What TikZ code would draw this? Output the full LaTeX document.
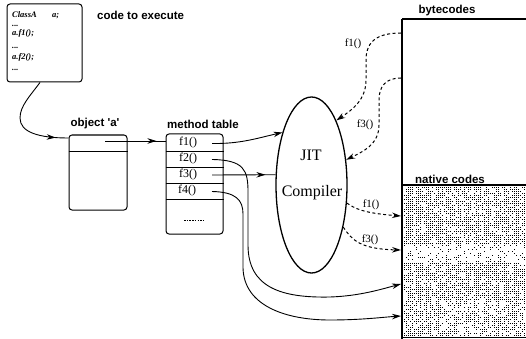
\documentclass[tikz,border=0pt]{standalone}
\usepackage{fontspec}
\setmainfont{Liberation Serif}
\setsansfont{Liberation Sans}[Ligatures=TeXOff]
\usetikzlibrary{arrows.meta,shapes.geometric,decorations.markings}

\begin{document}
\begin{tikzpicture}[x=1pt,y=-1pt,
  >={Stealth[length=9pt,width=5.5pt]},
  lbl/.style={font=\sffamily\bfseries\fontsize{11.5pt}{13pt}\selectfont, inner sep=0pt},
  fn/.style={font=\fontsize{12pt}{13pt}\selectfont, inner sep=0pt},
  small fn/.style={font=\fontsize{11pt}{12pt}\selectfont, inner sep=0pt},
  big/.style={font=\fontsize{16pt}{18pt}\selectfont, inner sep=0pt},
  codetxt/.style={font=\bfseries\itshape\fontsize{8.5pt}{9pt}\selectfont, inner sep=0pt, anchor=base west},
  box/.style={draw, line width=1pt, rounded corners=3pt, inner sep=0pt},
  conn/.style={line width=0.9pt},
  dashconn/.style={line width=1pt, dash pattern=on 3pt off 2.5pt},
  midarrow/.style={postaction={decorate},
    decoration={markings, mark=at position #1 with {\arrow{Stealth[length=9pt,width=5.5pt]}}}}
]
\useasboundingbox (0,0) rectangle (526,339);

% ---- source code fragment ----
\node[box, minimum width=75pt, minimum height=78pt] (code) at (44.5,43) {};
\node[codetxt] (c1) at (12,18) {ClassA};
\node[codetxt] (c1b) at (52,18) {a;};
\node[codetxt] (c2) at (12,27) {...};
\node[codetxt] (c3) at (12,36) {a.f1();};
\node[codetxt] (c4) at (12,49) {...};
\node[codetxt] (c5) at (12,60) {a.f2();};
\node[codetxt] (c6) at (12,71) {...};
\node[lbl, anchor=west] (codelbl) at (97,15) {code to execute};

% ---- object 'a' ----
\node[lbl] (objlbl) at (95,124) {object 'a'};
\node[box, minimum width=58pt, minimum height=75pt] (obj) at (98,172.5) {};
\draw[line width=1pt] (obj.west |- 0,151) -- (obj.east |- 0,151);
\coordinate (optr) at (105,141);

% ---- method table ----
\node[lbl] (mtlbl) at (203,124) {method table};
\node[box, minimum width=57pt, minimum height=100pt] (mt) at (194.5,184) {};
\foreach \yy in {151,167,183,199}
  \draw[line width=1pt] (mt.west |- 0,\yy) -- (mt.east |- 0,\yy);
\node[fn] (m1) at (188,143) {f1()};
\node[fn] (m2) at (188,159) {f2()};
\node[fn] (m3) at (188,175) {f3()};
\node[fn] (m4) at (187,191) {f4()};
\draw[line width=0.6pt, dash pattern=on 1.5pt off 1.2pt] (184,220) -- (205,220);
\coordinate (s1) at (212,143.5);
\coordinate (s2) at (212,159.5);
\coordinate (s3) at (212,175);
\coordinate (s4) at (212,191.5);

% ---- JIT compiler ----
\node[draw, ellipse, line width=1.3pt, minimum width=71pt, minimum height=176pt, inner sep=0pt] (jit) at (311.5,185) {};
\node[big] (jitt) at (311,155) {JIT};
\node[big] (comp) at (312,193) {Compiler};

% ---- bytecodes / native codes memory ----
\node[lbl] (bclbl) at (447,11) {bytecodes};
\node[lbl] (nclbl) at (450,179) {native codes};
\begin{scope}
  \clip (403,186.5) rectangle (526,338);
  \pgfmathsetseed{11}
  \foreach \i in {0,...,61}{
    \pgfmathsetmacro\cd{0.35+0.5*abs(sin(\i*37))}
    \foreach \j in {0,...,75}{
      \pgfmathsetmacro\yy{187+2*\j}
      \pgfmathsetmacro\band{(\yy>243 && \yy<263) ? 0.35 : ((\yy>300) ? 0.8 : 1)}
      \pgfmathtruncatemacro\hit{rnd < \cd*\band ? 1 : 0}
      \ifnum\hit=1 \fill (403.5+2*\i,\yy) rectangle ++(1.3,1.3); \fi
    }
  }
\end{scope}
\draw[line width=1.4pt] (402,19) -- (526,19);
\draw[line width=2pt] (402,19) -- (402,339);
\draw[line width=2pt] (402,185) -- (526,185);
\draw[line width=1pt] (403,337.5) -- (526,337.5);
\coordinate (bc1) at (401,33);
\coordinate (bc2) at (401,78);
\coordinate (nc1) at (401,216);
\coordinate (nc2) at (401,250);
\coordinate (nc3) at (401,284);
\coordinate (nc4) at (401,316);

% ---- connectors ----
\draw[conn, midarrow=0.87] ([xshift=-4.5pt]code.south) .. controls (30,96) and (20,106) .. (20,118)
   .. controls (20,132) and (38,138) .. (obj.west |- 0,138);
\draw[conn, midarrow=0.85] (optr) -- (optr -| mt.west);

\draw[conn, ->] (s1) .. controls (240,144) and (258,138) .. (jit.119.6);
\draw[conn, midarrow=0.84] (s3) -- (jit.164);
\draw[conn, ->] (s2) .. controls (244,160) and (248,170) .. (248,192) -- (248,245)
   .. controls (248,288) and (282,298) .. (330,297) .. controls (360,296) and (382,289) .. (nc3);
\draw[conn, ->] (s4) .. controls (236,192) and (243,200) .. (243,214) -- (243,268)
   .. controls (244,306) and (286,320) .. (330,320) .. controls (362,320) and (385,317) .. (nc4);

% bytecodes fetched by the compiler
\draw[dashconn, ->] (bc1) .. controls (374,33) and (366,44) .. (366,60) -- (366,80)
   .. controls (366,100) and (352,110) .. (jit.69);
\node[small fn] (d1) at (353,44) {f1()};
\draw[dashconn, ->] (bc2) .. controls (386,78) and (379,86) .. (379,100) -- (379,125)
   .. controls (379,145) and (362,152) .. (jit.36);
\node[small fn] (d2) at (365,125) {f3()};

% generated native code
\draw[dashconn, ->] (jit.-27) .. controls (354,208) and (362,213) .. (nc1);
\node[small fn] (d3) at (371,205) {f1()};
\draw[dashconn, ->] (jit.-53) .. controls (352,240) and (360,249) .. (nc2);
\node[small fn] (d4) at (370,240) {f3()};
\end{tikzpicture}
\end{document}
